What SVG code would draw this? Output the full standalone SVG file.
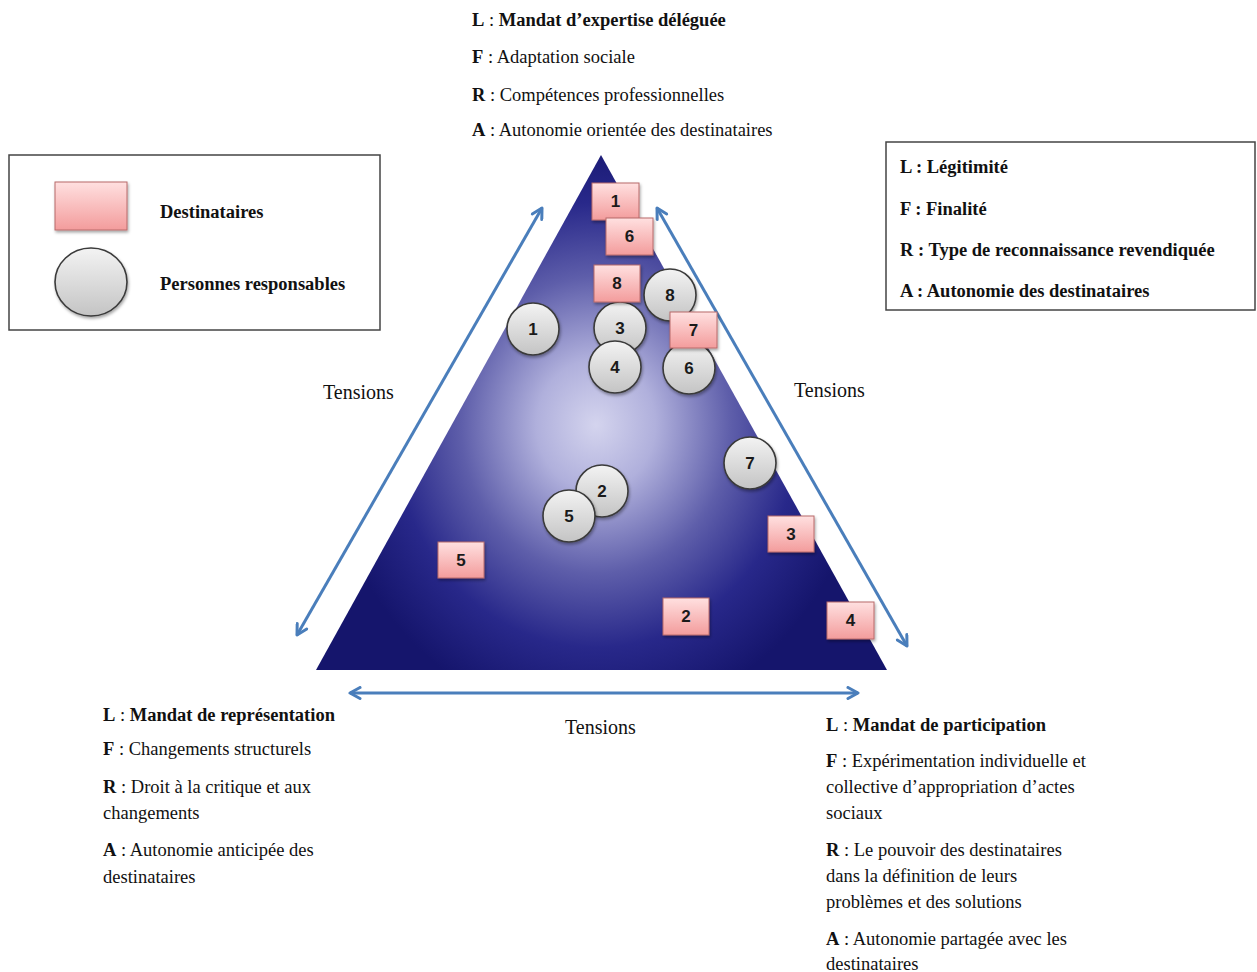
<svg xmlns="http://www.w3.org/2000/svg" width="1257" height="972" viewBox="0 0 1257 972">
<style>
.t{font-family:"Liberation Serif","Times New Roman",serif;font-size:18.5px;fill:#111}
.b{font-weight:bold}
.ten{font-family:"Liberation Serif","Times New Roman",serif;font-size:20px;fill:#111}
.num{font-family:"Liberation Sans",Arial,sans-serif;font-size:17px;font-weight:bold;fill:#1a1a1a;text-anchor:middle}
.sq{fill:url(#pink);stroke:#b86a6a;stroke-width:1;filter:url(#sh)}
.ci{fill:url(#grey);stroke:#3a3a3a;stroke-width:1.6;filter:url(#sh)}
.box{fill:#fff;stroke:#444;stroke-width:1.5}
.arr{fill:none;stroke:#4a7ebb;stroke-width:3;marker-start:url(#ah);marker-end:url(#ah)}
</style>
<defs>
<radialGradient id="tri" gradientUnits="userSpaceOnUse" cx="596" cy="425" r="270" gradientTransform="translate(596 425) scale(1 1.1) translate(-596 -425)">
<stop offset="0" stop-color="#d4d4ee"/>
<stop offset="0.22" stop-color="#b0b0dc"/>
<stop offset="0.5" stop-color="#5e5eaa"/>
<stop offset="0.75" stop-color="#28288a"/>
<stop offset="1" stop-color="#15156c"/>
</radialGradient>
<linearGradient id="pink" x1="0" y1="0" x2="0" y2="1">
<stop offset="0" stop-color="#ffe0e0"/>
<stop offset="1" stop-color="#f39c9c"/>
</linearGradient>
<linearGradient id="grey" x1="0" y1="0" x2="0" y2="1">
<stop offset="0" stop-color="#f3f3f3"/>
<stop offset="1" stop-color="#c4c4c4"/>
</linearGradient>
<filter id="sh" x="-20%" y="-20%" width="150%" height="150%">
<feDropShadow dx="1" dy="2" stdDeviation="1.5" flood-color="#000" flood-opacity="0.35"/>
</filter>
<marker id="ah" viewBox="0 0 14 14" refX="12" refY="7" markerWidth="14" markerHeight="14" markerUnits="userSpaceOnUse" orient="auto-start-reverse">
<path d="M2,1.5 L12,7 L2,12.5" fill="none" stroke="#4a7ebb" stroke-width="3" stroke-linecap="round" stroke-linejoin="round"/>
</marker>
</defs>
<rect width="1257" height="972" fill="#fff"/>

<g id="triangle">
<polygon points="601,155 316,670 887,670" fill="url(#tri)"/>
</g>

<g id="connectors">
<line class="arr" x1="297" y1="635" x2="542" y2="208"/>
<line class="arr" x1="657" y1="208" x2="907" y2="646"/>
<line class="arr" x1="350" y1="693" x2="858" y2="693"/>
</g>

<g id="tension-labels">
<text class="ten" x="323" y="399">Tensions</text>
<text class="ten" x="794" y="397">Tensions</text>
<text class="ten" x="565" y="734">Tensions</text>
</g>

<g id="legend">
<rect class="box" x="9" y="155" width="371" height="175"/>
<rect class="sq" x="55" y="182" width="72" height="48"/>
<ellipse class="ci" cx="91" cy="282" rx="36" ry="34"/>
<text class="t b" x="160" y="218">Destinataires</text>
<text class="t b" x="160" y="290">Personnes responsables</text>
</g>

<g id="key-box">
<rect class="box" x="886" y="142" width="369" height="168"/>
<text class="t b" x="900" y="173">L : Légitimité</text>
<text class="t b" x="900" y="215">F : Finalité</text>
<text class="t b" x="900" y="256">R : Type de reconnaissance revendiquée</text>
<text class="t b" x="900" y="297">A : Autonomie des destinataires</text>
</g>

<g id="top-pole">
<text class="t" x="472" y="26"><tspan class="b">L</tspan> : <tspan class="b">Mandat d’expertise déléguée</tspan></text>
<text class="t" x="472" y="63"><tspan class="b">F</tspan> : Adaptation sociale</text>
<text class="t" x="472" y="101"><tspan class="b">R</tspan> : Compétences professionnelles</text>
<text class="t" x="472" y="136"><tspan class="b">A</tspan> : Autonomie orientée des destinataires</text>
</g>

<g id="left-pole">
<text class="t" x="103" y="721"><tspan class="b">L</tspan> : <tspan class="b">Mandat de représentation</tspan></text>
<text class="t" x="103" y="755"><tspan class="b">F</tspan> : Changements structurels</text>
<text class="t" x="103" y="793"><tspan class="b">R</tspan> : Droit à la critique et aux</text>
<text class="t" x="103" y="819">changements</text>
<text class="t" x="103" y="856"><tspan class="b">A</tspan> : Autonomie anticipée des</text>
<text class="t" x="103" y="883">destinataires</text>
</g>

<g id="right-pole">
<text class="t" x="826" y="731"><tspan class="b">L</tspan> : <tspan class="b">Mandat de participation</tspan></text>
<text class="t" x="826" y="767"><tspan class="b">F</tspan> : Expérimentation individuelle et</text>
<text class="t" x="826" y="793">collective d’appropriation d’actes</text>
<text class="t" x="826" y="819">sociaux</text>
<text class="t" x="826" y="856"><tspan class="b">R</tspan> : Le pouvoir des destinataires</text>
<text class="t" x="826" y="882">dans la définition de leurs</text>
<text class="t" x="826" y="908">problèmes et des solutions</text>
<text class="t" x="826" y="945"><tspan class="b">A</tspan> : Autonomie partagée avec les</text>
<text class="t" x="826" y="970">destinataires</text>
</g>

<g id="responsables">
<g id="p1"><circle class="ci" cx="533" cy="329" r="26"/><text class="num" x="533" y="335">1</text></g>
<g id="p8"><circle class="ci" cx="670" cy="295" r="26"/><text class="num" x="670" y="301">8</text></g>
<g id="p3"><circle class="ci" cx="620" cy="328" r="26"/><text class="num" x="620" y="334">3</text></g>
<g id="p4"><circle class="ci" cx="615" cy="367" r="26"/><text class="num" x="615" y="373">4</text></g>
<g id="p6"><circle class="ci" cx="689" cy="368" r="26"/><text class="num" x="689" y="374">6</text></g>
<g id="p7"><circle class="ci" cx="750" cy="463" r="26"/><text class="num" x="750" y="469">7</text></g>
<g id="p2"><circle class="ci" cx="602" cy="491" r="26"/><text class="num" x="602" y="497">2</text></g>
<g id="p5"><circle class="ci" cx="569" cy="516" r="26"/><text class="num" x="569" y="522">5</text></g>
</g>

<g id="destinataires">
<g id="d1"><rect class="sq" x="592" y="183" width="47" height="37"/><text class="num" x="615.5" y="207">1</text></g>
<g id="d6"><rect class="sq" x="606" y="218" width="47" height="37"/><text class="num" x="629.5" y="242">6</text></g>
<g id="d8"><rect class="sq" x="594" y="265" width="46" height="37"/><text class="num" x="617" y="289">8</text></g>
<g id="d7"><rect class="sq" x="670" y="312" width="47" height="36"/><text class="num" x="693.5" y="336">7</text></g>
<g id="d5"><rect class="sq" x="438" y="542" width="46" height="36"/><text class="num" x="461" y="566">5</text></g>
<g id="d3"><rect class="sq" x="768" y="516" width="46" height="36"/><text class="num" x="791" y="540">3</text></g>
<g id="d2"><rect class="sq" x="663" y="598" width="46" height="37"/><text class="num" x="686" y="622">2</text></g>
<g id="d4"><rect class="sq" x="827" y="602" width="47" height="37"/><text class="num" x="850.5" y="626">4</text></g>
</g>
</svg>
